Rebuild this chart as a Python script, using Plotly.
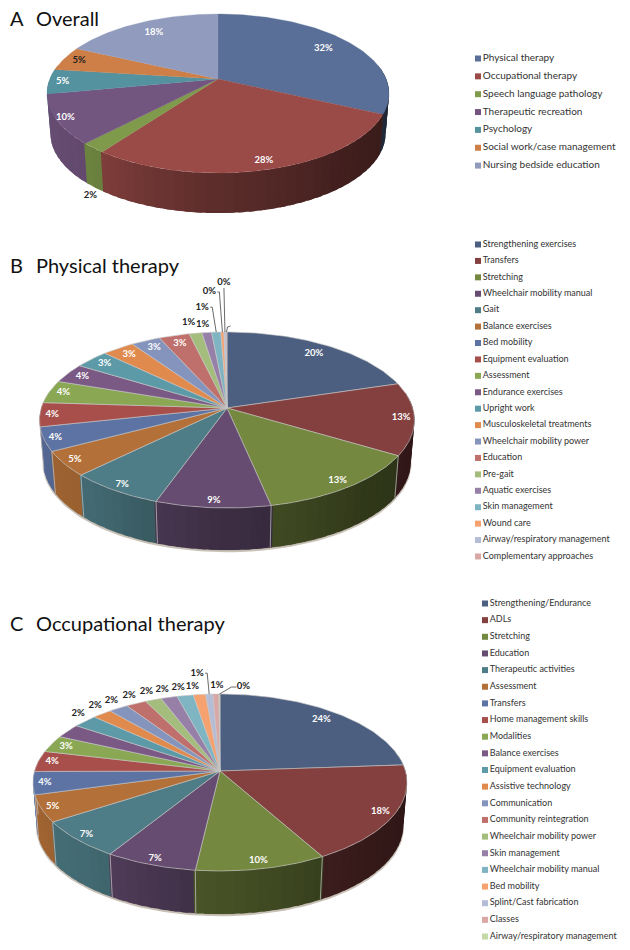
import numpy as np
import plotly.graph_objects as go

# ---------- data ----------
overall_names = ["Physical therapy", "Occupational therapy", "Speech language pathology",
                 "Therapeutic recreation", "Psychology", "Social work/case management",
                 "Nursing bedside education"]
overall_values = [32.0, 28.0, 2.0, 10.0, 5.0, 5.0, 18.0]

pt_names = ["Strengthening exercises", "Transfers", "Stretching", "Wheelchair mobility manual",
            "Gait", "Balance exercises", "Bed mobility", "Equipment evaluation", "Assessment",
            "Endurance exercises", "Upright work", "Musculoskeletal treatments",
            "Wheelchair mobility power", "Education", "Pre-gait", "Aquatic exercises",
            "Skin management", "Wound care", "Airway/respiratory management",
            "Complementary approaches"]
pt_values = [20.3, 13.3, 13.1, 8.7, 7.2, 4.6, 4.4, 4.4, 4.2, 3.6, 3.4, 3.2, 2.9, 3.0,
             1.25, 0.95, 0.9, 0.3, 0.2, 0.1]

ot_names = ["Strengthening/Endurance", "ADLs", "Stretching", "Education", "Therapeutic activities",
            "Assessment", "Transfers", "Home management skills", "Modalities", "Balance exercises",
            "Equipment evaluation", "Assistive technology", "Communication",
            "Community reintegration", "Wheelchair mobility power", "Skin management",
            "Wheelchair mobility manual", "Bed mobility", "Splint/Cast fabrication", "Classes",
            "Airway/respiratory management"]
ot_values = [23.9, 18.0, 10.0, 7.0, 7.0, 4.9, 4.2, 3.8, 3.1, 2.6, 2.4, 1.9, 1.9, 2.0, 1.6,
             1.6, 1.6, 1.2, 0.7, 0.6, 0.1]

overall_colors = ["#5a6f97", "#9a4b48", "#7f9a4b", "#735680", "#55929f", "#cd7f47", "#919bbd"]
long_colors = ["#4d5f80", "#843f3f", "#75883f", "#654c70", "#4f7d87", "#b37038", "#5d73a3",
               "#a84f4c", "#8aa854", "#7a5a85", "#5c9aa8", "#e08a4e", "#8494bc", "#c0706c",
               "#a5bd7c", "#9680a8", "#7fb4c2", "#f5a270", "#b4bcd6", "#d9a8a6", "#c5d8a8"]

FONT = "Lato"
fig = go.Figure()


def hex_rgb(c):
    return [int(c[i:i + 2], 16) for i in (1, 3, 5)]


def shaded(c, f):
    r, g, b = hex_rgb(c)
    return f"rgb({int(r * f)},{int(g * f)},{int(b * f)})"


def make_projection(cx, ay, top, bottom, rx):
    t, b = ay - top, bottom - ay
    c = (b - t) / (b + t)
    a = t * (1 + c)
    d = rx * np.sqrt(1 - c * c)

    def project(theta, r=1.0):
        th = np.radians(theta)
        u, v = r * np.sin(th), r * np.cos(th)
        den = 1 + c * v
        return cx + d * u / den, ay - a * v / den
    return project


def pie(values, colors, cx, ay, top, bottom, rx, depth, edge, shadow, r_table, overrides, dark, skip):
    project = make_projection(cx, ay, top, bottom, rx)
    shrink = 0.98

    def lower(theta):
        x, y = project(theta)
        return cx + (x - cx) * shrink, y + depth

    vals = np.array(values, float)
    vals = vals / vals.sum() * 100
    stops = np.concatenate([[0], np.cumsum(vals)]) * 3.6

    if shadow:
        th = np.linspace(0, 360, 181)
        xs, ys = lower(th)
        fig.add_trace(go.Scatter(x=xs, y=ys + 1.5, fill="toself", mode="lines",
                                 line=dict(color="#c9c2b8", width=1.5), fillcolor="#b8b0a5",
                                 hoverinfo="skip"))

    # side wall strips, back to front, each overlapping the next so no seam shows
    strips = []
    for i, col in enumerate(colors[:len(vals)]):
        a0, a1 = stops[i], stops[i + 1]
        lo, hi = max(a0, 80), min(a1, 280)
        if hi <= lo:
            continue
        n = max(1, int((hi - lo) / 3))
        g = np.linspace(lo, hi, n + 1)
        for s0, s1 in zip(g[:-1], g[1:]):
            strips.append((s0, s1, col, lo, hi))
    strips.sort(key=lambda s: abs((s[0] + s[1]) / 2 - 180), reverse=True)
    for s0, s1, col, lo, hi in strips:
        mid = (s0 + s1) / 2
        f = np.interp(mid, [90, 140, 180, 220, 270], [0.33, 0.42, 0.6, 0.85, 0.93])
        th = np.linspace(max(s0 - 1, lo - 0.5), min(s1 + 1, hi + 0.5), 5)
        xt, yt = project(th)
        xb, yb = lower(th)
        c = shaded(col, f)
        fig.add_trace(go.Scatter(x=np.r_[xt, xb[::-1]], y=np.r_[yt, yb[::-1]], fill="toself",
                                 mode="none", fillcolor=c, hoverinfo="skip"))
    if edge:
        for a in stops:
            if 85 < a < 275:
                xt, yt = project(a)
                xb, yb = lower(a)
                fig.add_trace(go.Scatter(x=[xt, xb], y=[yt, yb], mode="lines",
                                         line=dict(color=edge, width=0.7), hoverinfo="skip"))

    # top face
    for i, col in enumerate(colors[:len(vals)]):
        th = np.linspace(stops[i], stops[i + 1], max(3, int(vals[i] * 3.6) + 2))
        xt, yt = project(th)
        xa, ya = project(0, 0)
        fig.add_trace(go.Scatter(x=np.r_[xa, xt, xa], y=np.r_[ya, yt, ya], fill="toself",
                                 mode="lines", fillcolor=col,
                                 line=dict(color=edge or col, width=0.6 if edge else 0.3),
                                 hoverinfo="skip"))

    # value labels
    for group, color in (("in", "white"), ("out", "#222222")):
        lx, ly, lt = [], [], []
        for i, v in enumerate(vals):
            if i in skip:
                continue
            mid = (stops[i] + stops[i + 1]) / 2
            rim_x, rim_y = project(mid)
            txt = f"{int(round(v))}%"
            if i in overrides:
                dx, dy, leader = overrides[i]
                px, py = rim_x + dx, rim_y + dy
                is_out = True
                if group == "out":
                    if leader == "side":
                        fig.add_trace(go.Scatter(x=[rim_x, rim_x + dx + 10, px + 8],
                                                 y=[rim_y, py, py], mode="lines",
                                                 line=dict(color="#444444", width=0.8), hoverinfo="skip"))
                    elif leader == "up":
                        fig.add_trace(go.Scatter(x=[rim_x, px], y=[rim_y, py + 5], mode="lines",
                                                 line=dict(color="#444444", width=0.8), hoverinfo="skip"))
                    elif leader == "slant":
                        fig.add_trace(go.Scatter(x=[rim_x, px - 12, px - 7],
                                                 y=[rim_y, py, py], mode="lines",
                                                 line=dict(color="#444444", width=0.8), hoverinfo="skip"))
                    elif leader == "hook":
                        fig.add_trace(go.Scatter(x=[rim_x, rim_x + 1, rim_x + 4],
                                                 y=[rim_y, rim_y - 5, rim_y - 6], mode="lines",
                                                 line=dict(color="#444444", width=0.8), hoverinfo="skip"))
                if leader == "hook":
                    continue
            else:
                is_out = False
                px, py = project(mid, float(np.interp(mid, *r_table)))
            if i in dark:
                is_out = True
            if (group == "out") == is_out:
                lx.append(px)
                ly.append(py)
                lt.append(txt)
        fig.add_trace(go.Scatter(x=lx, y=ly, text=lt, mode="text", hoverinfo="skip",
                                 textfont=dict(family=FONT, size=9.5, color=color, weight="bold")))


def legend(names, colors, x, y0, step, size):
    ys = y0 + step * np.arange(len(names))
    fig.add_trace(go.Scatter(x=[x] * len(names), y=ys, text=names, mode="markers+text",
                             textposition="middle right", hoverinfo="skip",
                             marker=dict(symbol="square", size=6, color=colors[:len(names)]),
                             textfont=dict(family=FONT, size=size, color="#333333")))


def title(letter, name, y):
    fig.add_annotation(x=8, y=y, text=letter, showarrow=False, xanchor="left", yanchor="middle",
                       font=dict(family=FONT, size=20, color="#111111"))
    fig.add_annotation(x=34, y=y, text=name, showarrow=False, xanchor="left", yanchor="middle",
                       font=dict(family=FONT, size=20, color="#111111"))


overall_r = ([57, 165, 241, 268, 286, 327], [0.8, 0.92, 0.95, 0.92, 0.9, 0.8])
long_r = ([36, 97, 150, 200, 260, 300, 340], [0.86, 0.93, 0.92, 0.94, 0.94, 0.9, 0.88])
out_default = (-7, -8, None)

pie(overall_values, overall_colors, 218, 79, 14, 173, 171, 40, None, False, overall_r,
    {2: (-3, 48, None)}, {5}, set())
pie(pt_values, long_colors, 227, 408, 332, 508, 187.5, 42, "#c8c8c8", True, long_r,
    {14: (-7, -11, None), 15: (-4, -8, None), 16: (-14, -25, "side"),
     17: (-13, -40, "side"), 18: (-1, -49, "up"), 19: (0, 0, "hook")}, set(), set())
pie(ot_values, long_colors, 220, 771, 694, 871, 187, 43, "#c8c8c8", True, long_r,
    {**{i: out_default for i in range(10, 18)},
     18: (-12, -21, "side"), 19: (1, -8, None), 20: (24, -7, "slant")}, set(), {9})

legend(overall_names, overall_colors, 478, 58.5, 17.85, 10)
legend(pt_names, long_colors, 478, 244.5, 16.42, 9)
legend(ot_names, long_colors, 485, 603.5, 16.65, 9)

title("A", "Overall", 18)
title("B", "Physical therapy", 265)
title("C", "Occupational therapy", 623)

fig.update_layout(width=630, height=950, autosize=False, showlegend=False,
                  margin=dict(l=0, r=0, t=0, b=0), plot_bgcolor="white", paper_bgcolor="white",
                  xaxis=dict(range=[0, 630], visible=False, fixedrange=True),
                  yaxis=dict(range=[950, 0], visible=False, fixedrange=True))
fig.write_html("out.html", include_plotlyjs=True, config={"displayModeBar": False},
               post_script="document.body.style.margin='0';")
